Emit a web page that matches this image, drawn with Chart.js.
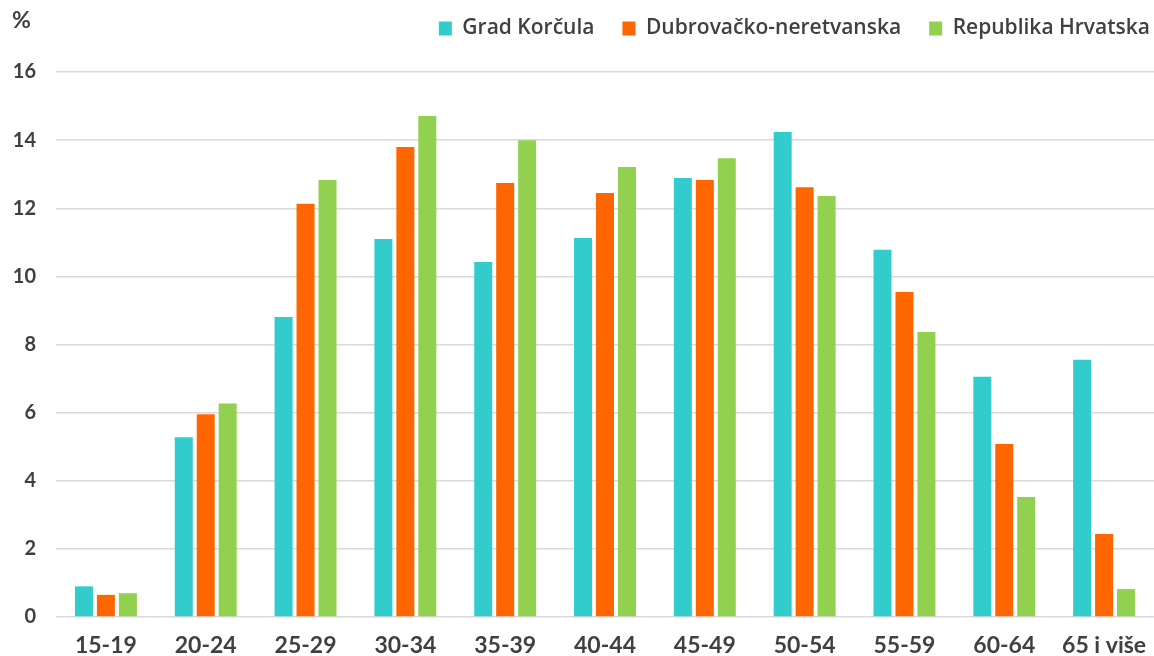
<!DOCTYPE html>
<html>
<head>
<meta charset="utf-8">
<script src="https://cdn.jsdelivr.net/npm/chart.js@4.4.0/dist/chart.umd.min.js"></script>
<style>
  html, body { margin: 0; padding: 0; background: #fff; }
  #wrap { width: 1154px; height: 656px; }
</style>
</head>
<body>
<div id="wrap"><canvas id="myChart" width="1154" height="656"></canvas></div>
<script>
const categories = ['15-19', '20-24', '25-29', '30-34', '35-39', '40-44', '45-49', '50-54', '55-59', '60-64', '65 i više'];
const seriesNames = ['Grad Korčula', 'Dubrovačko-neretvanska', 'Republika Hrvatska'];
const korcula = [0.9, 5.28, 8.81, 11.1, 10.42, 11.13, 12.89, 14.24, 10.78, 7.05, 7.55];
const dubrovacko = [0.65, 5.95, 12.13, 13.8, 12.74, 12.45, 12.83, 12.62, 9.54, 5.08, 2.44];
const hrvatska = [0.7, 6.27, 12.83, 14.71, 14.0, 13.21, 13.47, 12.36, 8.37, 3.52, 0.82];
const yTicks = [0, 2, 4, 6, 8, 10, 12, 14, 16];

const textColor = '#404040';
const fontFamily = 'Lato, "Open Sans", sans-serif';
const legendFont = '"Open Sans", Lato, sans-serif';

// "%" unit label above the y axis
const percentLabel = {
  id: 'percentLabel',
  afterDraw(chart) {
    const c = chart.ctx;
    c.save();
    c.fillStyle = textColor;
    c.font = 'bold 23px ' + fontFamily;
    c.textBaseline = 'middle';
    c.fillText('%', 12, 21);
    c.restore();
  }
};

// fixed legend band, pushed to the right edge and up a bit
const legendTweak = {
  id: 'legendTweak',
  beforeInit(chart) {
    const orig = chart.legend.fit;
    chart.legend.fit = function () {
      orig.call(this);
      this.height = 72;
    };
  },
  afterLayout(chart) {
    chart.legend.left += 24;
    chart.legend.right += 24;
    chart.legend.top -= 10;
  }
};

const ctx = document.getElementById('myChart');
const makeSet = (label, data, color) => ({
  label: label,
  data: data,
  backgroundColor: color,
  borderWidth: 0,
  categoryPercentage: 0.66,
  barPercentage: 0.82
});

new Chart(ctx, {
  type: 'bar',
  data: {
    labels: categories,
    datasets: [
      makeSet(seriesNames[0], korcula, '#33CCCC'),
      makeSet(seriesNames[1], dubrovacko, '#FF6600'),
      makeSet(seriesNames[2], hrvatska, '#92D050')
    ]
  },
  options: {
    responsive: false,
    animation: false,
    layout: { padding: 0 },
    plugins: {
      tooltip: { enabled: false },
      legend: {
        position: 'top',
        align: 'end',
        labels: {
          boxWidth: 13,
          boxHeight: 14,
          padding: 28,
          color: textColor,
          font: { family: legendFont, size: 21, weight: '600' }
        }
      }
    },
    scales: {
      x: {
        grid: { display: false, drawTicks: false },
        border: { display: false },
        ticks: {
          color: textColor,
          padding: 15,
          maxRotation: 0,
          autoSkip: false,
          font: { family: fontFamily, size: 23, weight: 'bold' }
        },
        afterFit(scale) {
          scale.height = 39;
          scale.paddingLeft = 0;
          scale.paddingRight = 0;
        }
      },
      y: {
        min: 0,
        max: 16,
        afterBuildTicks(scale) { scale.ticks = yTicks.map(v => ({ value: v })); },
        grid: { color: '#d9d9d9', lineWidth: 1.5, drawTicks: false },
        border: { display: false },
        ticks: {
          color: textColor,
          padding: 20,
          font: { family: fontFamily, size: 20, weight: 'bold' }
        },
        afterFit(scale) { scale.width = 56; }
      }
    }
  },
  plugins: [legendTweak, percentLabel]
});
</script>
</body>
</html>
